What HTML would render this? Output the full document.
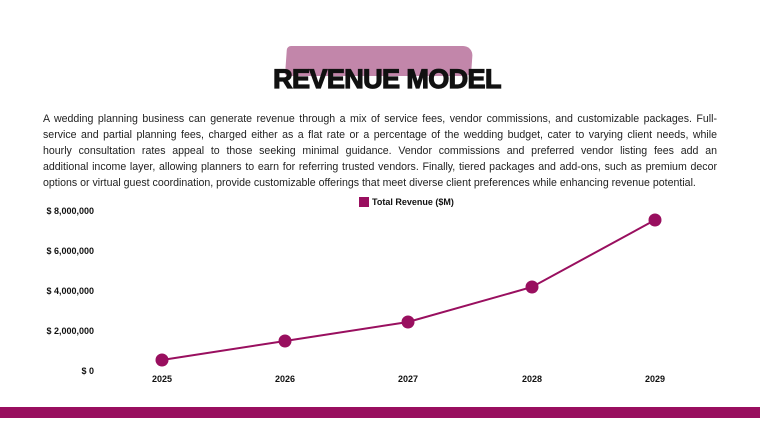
<!DOCTYPE html>
<html><head><style>
body{margin:0;width:760px;height:425px;background:#fff;position:relative;overflow:hidden;font-family:"Liberation Sans",sans-serif}
.brush{position:absolute;left:286px;top:46px;width:186px;height:30px;background:#c286aa;border-radius:4px 10px 6px 3px;transform:skewX(-4deg)}
h1{position:absolute;left:0;width:774px;top:62px;margin:0;text-align:center;font-size:27px;font-weight:bold;letter-spacing:-0.6px;color:#111;-webkit-text-stroke:1.2px #111;line-height:34px}
.p{position:absolute;left:43px;width:674px;top:111px;margin:0;font-size:10.6px;line-height:16px;color:#222}
.p span{display:block;white-space:nowrap;text-align:justify;text-align-last:justify}
.p span.l{text-align-last:left}
.bar{position:absolute;left:0;top:407px;width:760px;height:11px;background:#990f5f}
svg{position:absolute;left:0;top:0}
</style></head><body>
<div class="brush"></div>
<h1>REVENUE MODEL</h1>
<div class="p">
<span>A wedding planning business can generate revenue through a mix of service fees, vendor commissions, and customizable packages. Full-</span>
<span>service and partial planning fees, charged either as a flat rate or a percentage of the wedding budget, cater to varying client needs, while</span>
<span>hourly consultation rates appeal to those seeking minimal guidance. Vendor commissions and preferred vendor listing fees add an</span>
<span>additional income layer, allowing planners to earn for referring trusted vendors. Finally, tiered packages and add-ons, such as premium decor</span>
<span class="l">options or virtual guest coordination, provide customizable offerings that meet diverse client preferences while enhancing revenue potential.</span>
</div>
<svg width="760" height="425" font-family="Liberation Sans, sans-serif" font-weight="bold" font-size="9" fill="#111">
<text x="94" y="214" text-anchor="end">$ 8,000,000</text>
<text x="94" y="254" text-anchor="end">$ 6,000,000</text>
<text x="94" y="294" text-anchor="end">$ 4,000,000</text>
<text x="94" y="334" text-anchor="end">$ 2,000,000</text>
<text x="94" y="374" text-anchor="end">$ 0</text>
<text x="162" y="382" text-anchor="middle">2025</text>
<text x="285" y="382" text-anchor="middle">2026</text>
<text x="408" y="382" text-anchor="middle">2027</text>
<text x="532" y="382" text-anchor="middle">2028</text>
<text x="655" y="382" text-anchor="middle">2029</text>
<rect x="359" y="197" width="10" height="10" fill="#990f5f"/>
<text x="372" y="205">Total Revenue ($M)</text>
<polyline points="162,360 285,341 408,322 532,287 655,220" fill="none" stroke="#990f5f" stroke-width="2"/>
<g fill="#990f5f"><circle cx="162" cy="360" r="6.5"/><circle cx="285" cy="341" r="6.5"/><circle cx="408" cy="322" r="6.5"/><circle cx="532" cy="287" r="6.5"/><circle cx="655" cy="220" r="6.5"/></g>
</svg>
<div class="bar"></div>
</body></html>
